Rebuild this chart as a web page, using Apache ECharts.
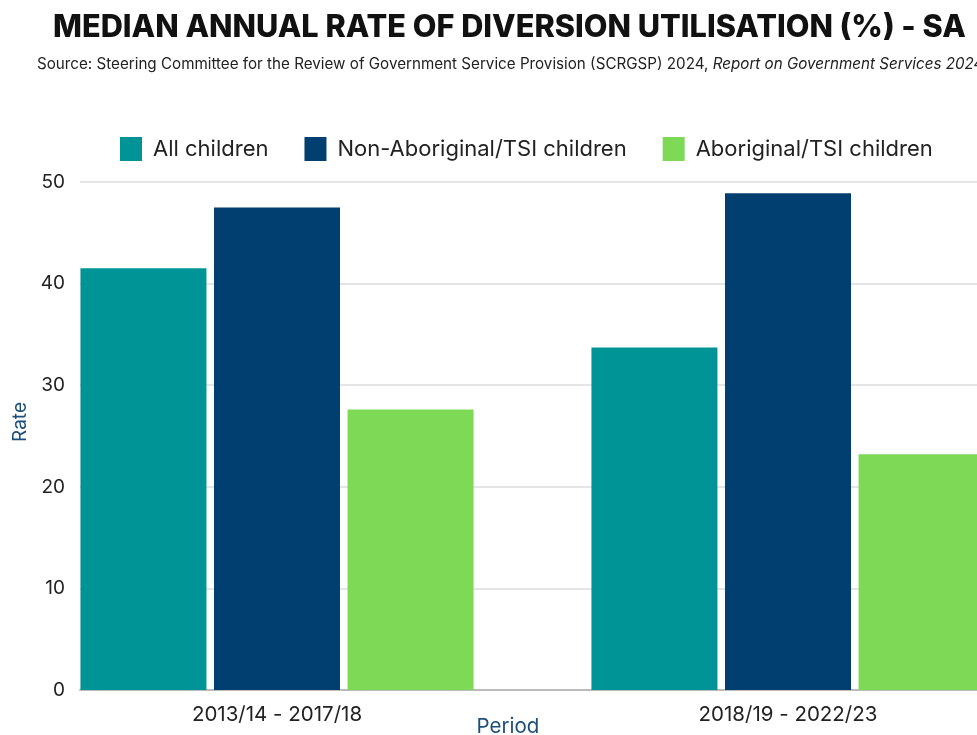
<!DOCTYPE html>
<html>
<head>
<meta charset="utf-8">
<title>Median annual rate of diversion utilisation - SA</title>
<script src="https://cdn.jsdelivr.net/npm/echarts@6/dist/echarts.min.js"></script>
<style>
  html, body { margin: 0; padding: 0; background: #fff; overflow: hidden; }
  /* the original graphic is wider than the window; its right side is cut off */
  #chart { width: 1044px; height: 735px; }
</style>
</head>
<body>
<div id="chart"></div>
<script>
// data
var periods = ['2013/14 - 2017/18', '2018/19 - 2022/23'];
var allChildren = [41.5, 33.7];
var nonAboriginal = [47.5, 48.9];
var aboriginal = [27.6, 23.2];
var rateTicks = [0, 10, 20, 30, 40, 50];

var teal = '#009497', navy = '#003f6f', green = '#7ed957';
var font = 'Inter, "Noto Sans", sans-serif';

var chart = echarts.init(document.getElementById('chart'));

var option = {
    backgroundColor: '#fff',
    textStyle: { fontFamily: font },
    title: [
        {
            text: 'MEDIAN ANNUAL RATE OF DIVERSION UTILISATION (%) - SA',
            left: 53, top: 12, padding: 0,
            textStyle: { fontSize: 30.7, fontWeight: 800, color: '#111', fontFamily: font }
        },
        {
            text: '{a|Source: Steering Committee for the Review of Government Service Provision (SCRGSP) 2024, }{b|Report on Government Services 2024}',
            left: 37, top: 57, padding: 0,
            textStyle: {
                fontWeight: 'normal',
                rich: {
                    a: { fontSize: 15.2, color: '#222', fontWeight: 'normal', fontFamily: font },
                    b: { fontSize: 15.2, color: '#222', fontWeight: 'normal', fontStyle: 'italic', fontFamily: font }
                }
            }
        }
    ],
    legend: {
        top: 132, left: 115,
        icon: 'rect',
        itemWidth: 22, itemHeight: 24, itemGap: 36,
        textStyle: { fontSize: 22, color: '#222', padding: [0, 0, 0, 6] },
        data: ['All children', 'Non-Aboriginal/TSI children', 'Aboriginal/TSI children']
    },
    grid: [
        { left: 80, right: 1, top: 182, bottom: 45 },
        { left: 21.5, right: 0.5, top: 182, bottom: 45 }
    ],
    xAxis: [
        {
            type: 'category', gridIndex: 0, data: periods,
            axisLine: { lineStyle: { color: '#bbb', width: 2 } },
            axisTick: { show: false }, axisLabel: { show: false }
        },
        {
            type: 'category', gridIndex: 1, data: periods,
            axisLine: { show: false }, axisTick: { show: false },
            axisLabel: { fontSize: 20.5, color: '#222', margin: 14 }
        }
    ],
    yAxis: [
        {
            type: 'value', gridIndex: 0, min: rateTicks[0], max: rateTicks[rateTicks.length - 1], interval: 10,
            axisLine: { show: false }, axisTick: { show: false },
            axisLabel: { fontSize: 19, color: '#222', margin: 15 },
            splitLine: { lineStyle: { color: '#dcdcdc', width: 1.5 } }
        },
        {
            type: 'value', gridIndex: 1, min: 0, max: 50, interval: 10, show: false
        }
    ],
    graphic: [
        {
            type: 'text', x: 508, y: 727,
            style: { text: 'Period', fontSize: 20.5, fill: '#1d4f7c', fontFamily: font,
                     align: 'center', verticalAlign: 'middle' }
        },
        {
            type: 'text', x: 20, y: 422, rotation: Math.PI / 2,
            style: { text: 'Rate', fontSize: 19, fill: '#1d4f7c', fontFamily: font,
                     align: 'center', verticalAlign: 'middle' }
        }
    ],
    series: [
        { name: 'All children', type: 'bar', xAxisIndex: 1, yAxisIndex: 1, data: allChildren,
          barWidth: 126, barGap: '6%', itemStyle: { color: teal } },
        { name: 'Non-Aboriginal/TSI children', type: 'bar', xAxisIndex: 1, yAxisIndex: 1, data: nonAboriginal,
          barWidth: 126, barGap: '6%', itemStyle: { color: navy } },
        { name: 'Aboriginal/TSI children', type: 'bar', xAxisIndex: 1, yAxisIndex: 1, data: aboriginal,
          barWidth: 126, barGap: '6%', itemStyle: { color: green } }
    ]
};

chart.setOption(option);
</script>
</body>
</html>
